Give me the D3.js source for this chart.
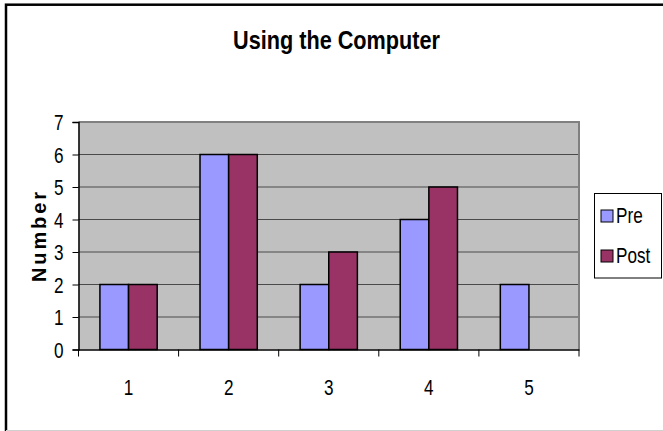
<!DOCTYPE html>
<html><head><meta charset="utf-8">
<script src="https://cdn.jsdelivr.net/npm/d3@7"></script>
<style>
html,body{margin:0;padding:0;background:#fff;}
svg{display:block;}
text{font-family:"Liberation Sans",Arial,sans-serif;fill:#000;}
</style></head>
<body>
<svg id="chart" width="663" height="431"></svg>
<script>
const title = "Using the Computer";
const yLabel = "Number";
const categories = ["1","2","3","4","5"];
const seriesNames = ["Pre","Post"];
const preValues = [2,6,2,4,2];
const postValues = [2,6,3,5,0];
const yTicks = [0,1,2,3,4,5,6,7];
const colors = ["#9999ff","#993366"];

const SX = 0.78; // horizontal condensing of text
const svg = d3.select("#chart");
// outer chart border (left/top visible, right/bottom cut off)
svg.append("rect").attr("x",6).attr("y",4.7).attr("width",680).attr("height",428.3)
  .attr("fill","none").attr("stroke","#000").attr("stroke-width",2.5);
svg.append("line").attr("x1",6).attr("x2",663).attr("y1",430.5).attr("y2",430.5)
  .attr("stroke","#d0d0d0").attr("stroke-width",1);

const L=78.5,R=579,T=122,B=349.5;
const x = d3.scaleBand().domain(categories).range([L,R]).padding(0);
const bw = x.bandwidth();
const x1 = d3.scaleBand().domain(seriesNames).range([bw*0.214,bw*0.786]).padding(0);
const y = d3.scaleLinear().domain([0,7]).range([B,T]);

// plot area
svg.append("rect").attr("x",L).attr("y",T).attr("width",R-L).attr("height",B-T).attr("fill","#c0c0c0");
// gridlines
svg.append("g").selectAll("line").data(yTicks.filter(d=>d>0&&d<7)).join("line")
  .attr("x1",L).attr("x2",R).attr("y1",d=>y(d)).attr("y2",d=>y(d))
  .attr("stroke","#4a4a4a").attr("stroke-width",1);
// top & right border
svg.append("path").attr("d",`M${L},${T}H${R}V${B}`).attr("fill","none").attr("stroke","#808080").attr("stroke-width",2);

// bars
const data = categories.map((c,i)=>({cat:c, vals:[{s:"Pre",v:preValues[i]},{s:"Post",v:postValues[i]}]}));
const g = svg.append("g");
data.forEach(d=>{
  g.selectAll(null).data(d.vals.filter(v=>v.v>0)).join("rect")
    .attr("x",v=>x(d.cat)+x1(v.s))
    .attr("y",v=>y(v.v))
    .attr("width",x1.bandwidth())
    .attr("height",v=>B-y(v.v))
    .attr("fill",v=>colors[seriesNames.indexOf(v.s)])
    .attr("stroke","#000").attr("stroke-width",1.5);
});

// y axis
const yAxis = d3.axisLeft(y).tickValues(yTicks).tickFormat(d3.format("d")).tickSize(6);
const ya = svg.append("g").attr("transform",`translate(${L},0)`).call(yAxis);
ya.select(".domain").attr("stroke","#000").attr("stroke-width",1.5);
ya.selectAll(".tick line").attr("stroke","#000");
ya.selectAll(".tick text").attr("font-size",22).attr("font-family",null)
  .attr("x",0).attr("dy","0.36em").attr("transform",`translate(-15,0) scale(${SX},1)`);

// x axis
const xAxis = d3.axisBottom(x).tickSize(0).tickPadding(0);
const xa = svg.append("g").attr("transform",`translate(0,${B})`).call(xAxis);
xa.select(".domain").attr("stroke","#000").attr("stroke-width",1.5);
xa.selectAll(".tick text").attr("font-size",22).attr("font-family",null)
  .attr("dy",0).attr("y",0).attr("transform",`translate(0,45.5) scale(${SX},1)`);
// boundary ticks
svg.append("g").selectAll("line").data(categories.concat(["end"])).join("line")
  .attr("x1",(d,i)=>i<categories.length?x(d):R).attr("x2",(d,i)=>i<categories.length?x(d):R)
  .attr("y1",B).attr("y2",B+7).attr("stroke","#000").attr("stroke-width",1);

// title
svg.append("text").attr("x",336.5).attr("y",49).attr("text-anchor","middle")
  .attr("font-size",26).attr("font-weight","bold").attr("textLength",207).attr("lengthAdjust","spacingAndGlyphs")
  .text(title);

// y label
svg.append("text").attr("transform","translate(46,237) rotate(-90)").attr("text-anchor","middle")
  .attr("font-size",20).attr("font-weight","bold")
  .attr("textLength",90).attr("lengthAdjust","spacing").text(yLabel);

// legend
const lg = svg.append("g");
lg.append("rect").attr("x",594.5).attr("y",193.5).attr("width",67).attr("height",84.5)
  .attr("fill","#fff").attr("stroke","#000").attr("stroke-width",1);
seriesNames.forEach((s,i)=>{
  const yy = 210 + i*40;
  lg.append("rect").attr("x",601).attr("y",yy).attr("width",12).attr("height",12)
    .attr("fill",colors[i]).attr("stroke","#000").attr("stroke-width",1);
  lg.append("text").attr("transform",`translate(616,${yy+13}) scale(${SX},1)`).attr("font-size",22).text(s);
});
</script>
</body></html>
